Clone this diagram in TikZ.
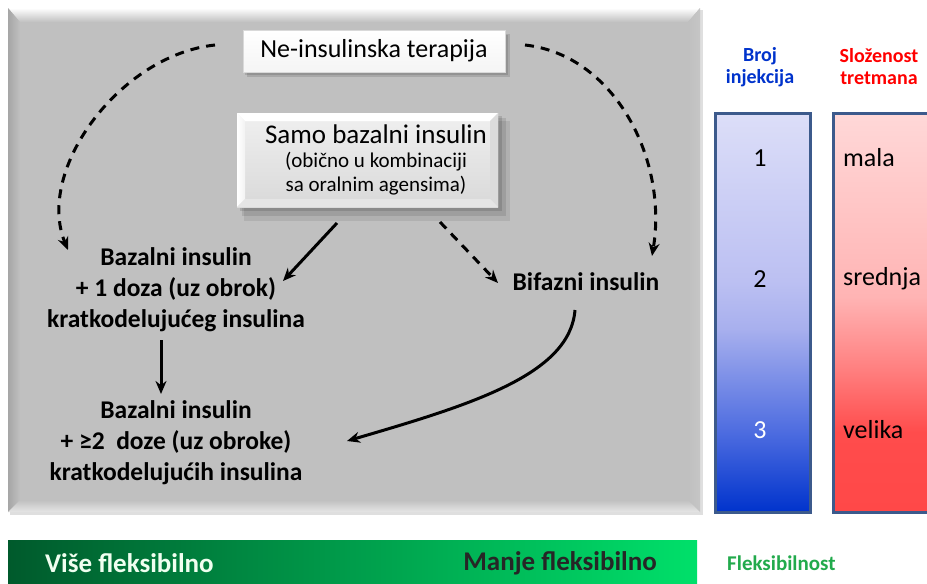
\documentclass[tikz,border=0pt]{standalone}
\usepackage{fontspec}
\setmainfont{Carlito}
\usetikzlibrary{arrows.meta,calc}
\definecolor{panel}{HTML}{C0C0C0}
\definecolor{barborder}{HTML}{3C5A8C}
\definecolor{bB}{HTML}{0033CC}
\definecolor{bM1}{HTML}{4D6CE0}
\definecolor{bM2}{HTML}{A8B0EE}
\definecolor{bM3}{HTML}{BCC0F2}
\definecolor{bT}{HTML}{DCDEF8}
\definecolor{rB}{HTML}{FF4848}
\definecolor{rM1}{HTML}{FF4C4C}
\definecolor{rM2}{HTML}{FF8080}
\definecolor{rM3}{HTML}{FFB4B4}
\definecolor{rT}{HTML}{FFD8D8}
\definecolor{gL}{HTML}{005A2C}
\definecolor{gM}{HTML}{00A850}
\definecolor{gR}{HTML}{00E06A}
\definecolor{hblue}{HTML}{0033CC}
\definecolor{hred}{HTML}{FF0000}
\definecolor{hgreen}{HTML}{22AA4C}
\pgfdeclareverticalshading{bluebar}{100bp}{color(0bp)=(bB); color(25bp)=(bB); color(35bp)=(bM1); color(48bp)=(bM2); color(54bp)=(bM3); color(75bp)=(bT); color(100bp)=(bT)}
\pgfdeclareverticalshading{redbar}{100bp}{color(0bp)=(rB); color(25bp)=(rB); color(35bp)=(rM1); color(43bp)=(rM2); color(52bp)=(rM3); color(75bp)=(rT); color(100bp)=(rT)}
\begin{document}
\begin{tikzpicture}[x=1pt,y=-1pt,
  conn/.style={line width=3pt, black},
  tip/.style={-{Stealth[length=13pt,width=11pt]}},
  dsh/.style={dash pattern=on 9pt off 7pt},
  lbl/.style={font=\fontsize{25.5}{31}\selectfont\bfseries, align=center, inner sep=0pt, text=black},
  hdr/.style={font=\fontsize{20}{22}\selectfont\bfseries, align=center, inner sep=0pt},
  barlbl/.style={font=\fontsize{26}{26}\selectfont, inner sep=0pt},
  flex/.style={font=\fontsize{27}{27}\selectfont\bfseries, inner sep=0pt},
]
\useasboundingbox (0,0) rectangle (927,584);
\clip (0,0) rectangle (927,584);
\fill[white] (0,0) rectangle (927,584);

% ---------- gray bevelled panel ----------
\fill[gray!25] (10,10) rectangle (703,515);
\fill[panel] (8,8) rectangle (700,512);
\shade[top color=white, bottom color=panel] (8,8) -- (700,8) -- (688,22) -- (20,22) -- cycle;
\shade[left color=gray!70, right color=panel] (8,8) -- (20,22) -- (20,500) -- (8,512) -- cycle;
\shade[left color=panel, right color=gray!45] (700,8) -- (700,512) -- (688,500) -- (688,22) -- cycle;
\shade[top color=panel, bottom color=gray!20] (8,512) -- (700,512) -- (688,500) -- (20,500) -- cycle;

% ---------- box shadows and bevels ----------
\fill[black, opacity=0.12] (247,34) rectangle (510,77);
\fill[black, opacity=0.12] (245,35) rectangle (508,75);
\shade[top color=white, bottom color=gray!8, draw=gray!30] (243,30) rectangle (505,72);

\fill[black, opacity=0.08] (244,121) rectangle (510,221);
\fill[black, opacity=0.10] (242,118) rectangle (506,216);
\fill[black, opacity=0.12] (240,116) rectangle (502,211);
\shade[top color=gray!12, bottom color=gray!30] (237,113) rectangle (498,207);
\fill[white] (237,113) -- (498,113) -- (490,121) -- (245,121) -- cycle;
\shade[left color=white, right color=gray!10] (237,113) -- (245,121) -- (245,199) -- (237,207) -- cycle;
\fill[gray!28] (498,113) -- (498,207) -- (490,199) -- (490,121) -- cycle;
\fill[gray!20] (237,207) -- (498,207) -- (490,199) -- (245,199) -- cycle;

% ---------- nodes ----------
\node[font=\fontsize{26}{26}\selectfont, inner sep=0pt, minimum width=262pt, minimum height=42pt] (ne) at (374,51) {Ne-insulinska terapija};
\node[align=center, inner sep=0pt, minimum width=261pt, minimum height=94pt, font=\fontsize{21}{24}\selectfont] (samo) at (376,160)
  {{\fontsize{27}{27}\selectfont Samo bazalni insulin}\\[0pt](obično u kombinaciji\\sa oralnim agensima)};
\node[lbl] (b1) at (176,290) {Bazalni insulin\\+ 1 doza (uz obrok)\\kratkodelujućeg insulina};
\node[lbl] (bif) at (586,282) {Bifazni insulin};
\node[lbl] (b2) at (176,443) {Bazalni insulin\\+ ≥2~ doze (uz obroke)\\kratkodelujućih insulina};

% ---------- connectors ----------
\coordinate (d1s) at (215,45);
\coordinate (d1e) at (68,250);
\coordinate (d2s) at (525,45);
\coordinate (d2e) at (652,256);
\coordinate (s1s) at (337,223);
\coordinate (s1e) at (283,281);
\coordinate (d3s) at (440,222);
\coordinate (d3e) at (498,283);
\coordinate (s2s) at (161,340);
\coordinate (s2e) at (161,394);
\coordinate (c1s) at (575,310);
\coordinate (c1e) at (347,441);

\draw[conn, dsh, tip] (d1s) .. controls (120,55) and (35,170) .. (d1e);
\draw[conn, dsh, tip] (d2s) .. controls (615,55) and (668,160) .. (d2e);
\draw[conn, tip] (s1s) -- (s1e);
\draw[conn, dsh, tip] (d3s) -- (d3e);
\draw[conn, tip] (s2s) -- (s2e);
\draw[conn, tip] (c1s) .. controls (570,375) and (470,405) .. (c1e);

% ---------- right bars ----------
\node[hdr, text=hblue] (broj) at (760,67) {Broj\\injekcija};
\node[hdr, text=hred] (slo) at (879,67) {Složenost\\tretmana};
\node[draw=barborder, line width=3pt, minimum width=95pt, minimum height=399pt, shade, shading=bluebar, inner sep=0pt] (bbar) at (762.5,312.5) {};
\node[draw=barborder, line width=3pt, minimum width=100pt, minimum height=399pt, shade, shading=redbar, inner sep=0pt] (rbar) at (883.5,312.5) {};
\node[barlbl] (n1) at (760,158) {1};
\node[barlbl] (n2) at (760,279) {2};
\node[barlbl, text=white] (n3) at (760,430) {3};
\node[barlbl, anchor=west] (mala) at (843,158) {mala};
\node[barlbl, anchor=west] (sred) at (843,279) {srednja};
\node[barlbl, anchor=west] (vel) at (843,430) {velika};

% ---------- flexibility bar ----------
\shade[left color=gL, middle color=gM, right color=gR] (8,540) rectangle (697,590);
\node[flex, anchor=west, text=green!6] (vise) at (45,563) {Više fleksibilno};
\node[flex, anchor=east, text=black!85] (manje) at (657,563) {Manje fleksibilno};
\node[flex, anchor=west, text=hgreen, font=\fontsize{21}{21}\selectfont\bfseries] (flx) at (727,563) {Fleksibilnost};
\end{tikzpicture}
\end{document}
